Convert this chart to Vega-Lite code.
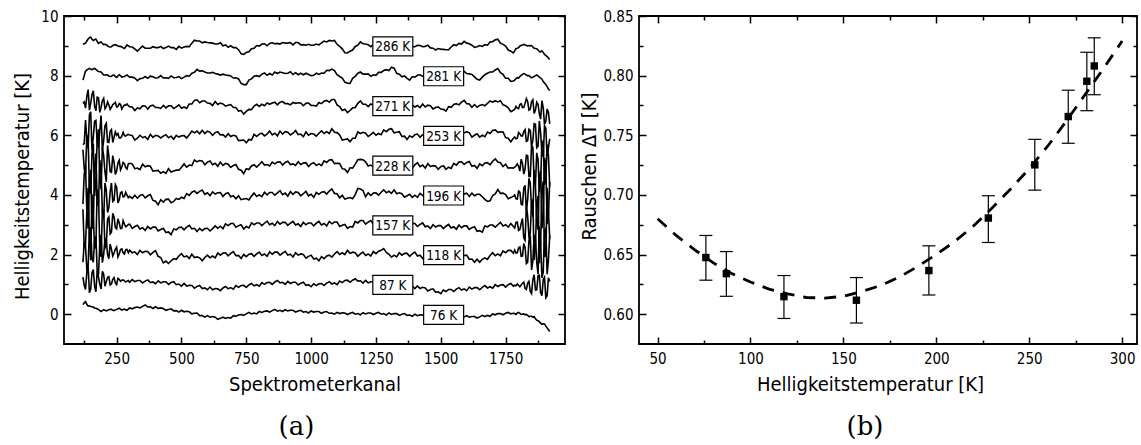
{
  "$schema": "https://vega.github.io/schema/vega-lite/v6.json",
  "background": "white",
  "padding": {"left": 11, "top": 8, "right": 0, "bottom": 0},
  "spacing": 74,
  "bounds": "flush",
  "config": {
    "view": {"stroke": "black", "strokeWidth": 1.8},
    "axis": {
      "labelFont": "DejaVu Sans Condensed, Liberation Sans, sans-serif",
      "labelFontSize": 15, "labelColor": "black", "labelFlush": false,
      "titleFont": "DejaVu Sans Condensed, Liberation Sans, sans-serif",
      "titleFontSize": 20, "titleFontWeight": "normal", "titleColor": "black",
      "domain": false, "grid": false, "tickColor": "black", "tickWidth": 1.5
    },
    "title": {"font": "DejaVu Serif", "fontSize": 26, "fontWeight": "normal", "color": "black"}
  },
  "hconcat": [
    {
      "width": 501, "height": 328,
      "title": {"text": "(a)", "orient": "bottom", "offset": 20, "dx": -18},
      "layer": [
        {
          "data": {"values": [
{"ch":120,"K286":9.05,"K281":7.85,"K271":7.07,"K253":5.68,"K228":5.52,"K196":3.69,"K157":3.52,"K118":1.74,"K87":1.24,"K76":0.32},
{"ch":130,"K286":9.09,"K281":8.15,"K271":6.91,"K253":6.51,"K228":4.70,"K196":4.99,"K157":2.33,"K118":2.28,"K87":0.83,"K76":0.42},
{"ch":140,"K286":9.23,"K281":8.22,"K271":7.53,"K253":5.56,"K228":5.91,"K196":2.87,"K157":4.24,"K118":1.60,"K87":1.60,"K76":0.27},
{"ch":150,"K286":9.29,"K281":8.21,"K271":7.08,"K253":6.79,"K228":4.04,"K196":4.84,"K157":1.81,"K118":2.88,"K87":0.84,"K76":0.26},
{"ch":160,"K286":9.18,"K281":8.23,"K271":7.49,"K253":5.95,"K228":5.72,"K196":3.02,"K157":3.29,"K118":1.74,"K87":1.50,"K76":0.24},
{"ch":170,"K286":9.22,"K281":8.21,"K271":6.82,"K253":6.50,"K228":4.51,"K196":5.39,"K157":2.30,"K118":2.60,"K87":0.75,"K76":0.20},
{"ch":180,"K286":9.08,"K281":8.14,"K271":7.26,"K253":5.59,"K228":6.20,"K196":3.68,"K157":4.01,"K118":1.32,"K87":1.25,"K76":0.15},
{"ch":190,"K286":9.13,"K281":8.12,"K271":6.94,"K253":6.66,"K228":4.19,"K196":4.79,"K157":1.92,"K118":2.66,"K87":0.85,"K76":0.09},
{"ch":200,"K286":9.04,"K281":8.02,"K271":7.24,"K253":5.83,"K228":5.31,"K196":3.21,"K157":3.48,"K118":2.01,"K87":1.34,"K76":0.15},
{"ch":210,"K286":9.04,"K281":8.03,"K271":6.96,"K253":6.40,"K228":4.44,"K196":4.16,"K157":2.30,"K118":2.49,"K87":1.09,"K76":0.11},
{"ch":220,"K286":8.97,"K281":7.99,"K271":7.02,"K253":5.76,"K228":5.29,"K196":3.57,"K157":3.26,"K118":1.86,"K87":1.26,"K76":0.15},
{"ch":230,"K286":8.97,"K281":7.98,"K271":6.94,"K253":6.19,"K228":4.76,"K196":4.40,"K157":2.75,"K118":2.18,"K87":1.01,"K76":0.16},
{"ch":240,"K286":9.03,"K281":8.02,"K271":7.06,"K253":5.93,"K228":5.10,"K196":3.82,"K157":3.26,"K118":2.05,"K87":1.23,"K76":0.12},
{"ch":250,"K286":9.02,"K281":7.94,"K271":6.95,"K253":6.00,"K228":4.80,"K196":4.26,"K157":2.86,"K118":2.25,"K87":0.99,"K76":0.16},
{"ch":260,"K286":8.98,"K281":8.03,"K271":7.06,"K253":5.91,"K228":5.16,"K196":3.84,"K157":3.06,"K118":2.02,"K87":1.17,"K76":0.20},
{"ch":270,"K286":8.96,"K281":7.95,"K271":6.88,"K253":5.97,"K228":4.94,"K196":4.10,"K157":2.88,"K118":2.19,"K87":1.14,"K76":0.14},
{"ch":280,"K286":8.91,"K281":7.97,"K271":7.01,"K253":5.99,"K228":5.05,"K196":3.95,"K157":3.02,"K118":2.02,"K87":1.12,"K76":0.17},
{"ch":290,"K286":9.03,"K281":8.02,"K271":7.05,"K253":6.01,"K228":4.87,"K196":3.99,"K157":2.96,"K118":2.17,"K87":1.11,"K76":0.13},
{"ch":300,"K286":8.97,"K281":7.95,"K271":6.96,"K253":6.01,"K228":5.06,"K196":3.95,"K157":3.02,"K118":2.15,"K87":1.07,"K76":0.21},
{"ch":310,"K286":8.96,"K281":7.95,"K271":6.95,"K253":5.99,"K228":5.04,"K196":3.88,"K157":2.88,"K118":2.06,"K87":1.16,"K76":0.18},
{"ch":320,"K286":8.90,"K281":7.92,"K271":6.83,"K253":5.84,"K228":4.88,"K196":3.99,"K157":2.94,"K118":2.09,"K87":1.09,"K76":0.22},
{"ch":330,"K286":8.82,"K281":7.83,"K271":6.92,"K253":5.90,"K228":4.90,"K196":3.89,"K157":2.98,"K118":2.00,"K87":1.13,"K76":0.24},
{"ch":340,"K286":8.91,"K281":7.90,"K271":6.89,"K253":6.00,"K228":4.85,"K196":3.98,"K157":2.86,"K118":2.14,"K87":1.13,"K76":0.21},
{"ch":350,"K286":8.99,"K281":7.91,"K271":6.99,"K253":5.92,"K228":5.03,"K196":4.01,"K157":2.90,"K118":2.06,"K87":1.05,"K76":0.26},
{"ch":360,"K286":8.92,"K281":7.97,"K271":6.98,"K253":5.95,"K228":4.94,"K196":3.90,"K157":2.81,"K118":2.11,"K87":1.11,"K76":0.31},
{"ch":370,"K286":8.92,"K281":7.91,"K271":6.88,"K253":5.86,"K228":4.98,"K196":3.97,"K157":2.94,"K118":2.10,"K87":1.15,"K76":0.24},
{"ch":380,"K286":8.92,"K281":7.98,"K271":6.98,"K253":6.03,"K228":4.96,"K196":4.01,"K157":2.86,"K118":1.99,"K87":1.06,"K76":0.25},
{"ch":390,"K286":8.97,"K281":7.96,"K271":7.01,"K253":5.93,"K228":4.80,"K196":3.82,"K157":2.92,"K118":2.07,"K87":1.08,"K76":0.19},
{"ch":400,"K286":8.94,"K281":7.92,"K271":6.93,"K253":6.00,"K228":4.81,"K196":3.79,"K157":2.92,"K118":2.13,"K87":1.02,"K76":0.25},
{"ch":410,"K286":8.94,"K281":7.93,"K271":6.93,"K253":5.98,"K228":4.82,"K196":3.67,"K157":2.79,"K118":1.94,"K87":1.12,"K76":0.19},
{"ch":420,"K286":8.98,"K281":8.00,"K271":6.90,"K253":5.91,"K228":4.73,"K196":3.84,"K157":2.84,"K118":1.90,"K87":1.05,"K76":0.21},
{"ch":430,"K286":8.91,"K281":7.92,"K271":7.00,"K253":5.97,"K228":4.78,"K196":3.76,"K157":2.88,"K118":1.72,"K87":1.09,"K76":0.19},
{"ch":440,"K286":8.94,"K281":7.93,"K271":6.92,"K253":6.02,"K228":4.72,"K196":3.85,"K157":2.74,"K118":1.78,"K87":1.09,"K76":0.13},
{"ch":450,"K286":8.99,"K281":7.91,"K271":6.99,"K253":5.92,"K228":4.88,"K196":3.86,"K157":2.76,"K118":1.70,"K87":1.00,"K76":0.16},
{"ch":460,"K286":8.94,"K281":7.99,"K271":6.99,"K253":5.97,"K228":4.77,"K196":3.74,"K157":2.67,"K118":1.79,"K87":1.06,"K76":0.18},
{"ch":470,"K286":8.94,"K281":7.93,"K271":6.90,"K253":5.87,"K228":4.80,"K196":3.78,"K157":2.86,"K118":1.86,"K87":1.09,"K76":0.11},
{"ch":480,"K286":8.88,"K281":7.94,"K271":6.95,"K253":6.00,"K228":4.83,"K196":3.88,"K157":2.83,"K118":1.84,"K87":0.99,"K76":0.12},
{"ch":490,"K286":8.98,"K281":7.97,"K271":7.02,"K253":5.94,"K228":4.83,"K196":3.85,"K157":2.91,"K118":1.95,"K87":1.01,"K76":0.07},
{"ch":500,"K286":8.92,"K281":7.90,"K271":6.91,"K253":5.98,"K228":4.93,"K196":3.92,"K157":2.92,"K118":2.03,"K87":0.94,"K76":0.13},
{"ch":510,"K286":8.96,"K281":7.95,"K271":6.95,"K253":5.99,"K228":5.04,"K196":3.88,"K157":2.83,"K118":1.92,"K87":1.03,"K76":0.08},
{"ch":520,"K286":8.98,"K281":8.00,"K271":6.90,"K253":5.91,"K228":4.93,"K196":4.04,"K157":2.92,"K118":1.95,"K87":0.94,"K76":0.10},
{"ch":530,"K286":8.97,"K281":7.98,"K271":7.05,"K253":6.02,"K228":5.00,"K196":3.98,"K157":2.98,"K118":1.87,"K87":0.97,"K76":0.08},
{"ch":540,"K286":9.09,"K281":8.08,"K271":7.05,"K253":6.14,"K228":4.98,"K196":4.09,"K157":2.86,"K118":2.01,"K87":0.96,"K76":0.01},
{"ch":550,"K286":9.19,"K281":8.11,"K271":7.17,"K253":6.08,"K228":5.17,"K196":4.13,"K157":2.88,"K118":1.90,"K87":0.87,"K76":0.03},
{"ch":560,"K286":9.16,"K281":8.21,"K271":7.19,"K253":6.14,"K228":5.11,"K196":4.05,"K157":2.77,"K118":1.92,"K87":0.93,"K76":0.04},
{"ch":570,"K286":9.16,"K281":8.15,"K271":7.09,"K253":6.05,"K228":5.15,"K196":4.12,"K157":2.88,"K118":1.89,"K87":0.96,"K76":-0.05},
{"ch":580,"K286":9.10,"K281":8.16,"K271":7.15,"K253":6.17,"K228":5.14,"K196":4.16,"K157":2.80,"K118":1.79,"K87":0.86,"K76":-0.05},
{"ch":590,"K286":9.13,"K281":8.12,"K271":7.15,"K253":6.06,"K228":5.01,"K196":4.02,"K157":2.87,"K118":1.90,"K87":0.88,"K76":-0.10},
{"ch":600,"K286":9.11,"K281":8.09,"K271":7.08,"K253":6.14,"K228":5.10,"K196":4.07,"K157":2.88,"K118":1.98,"K87":0.82,"K76":-0.05},
{"ch":610,"K286":9.10,"K281":8.09,"K271":7.07,"K253":6.10,"K228":5.14,"K196":3.97,"K157":2.79,"K118":1.89,"K87":0.91,"K76":-0.10},
{"ch":620,"K286":9.09,"K281":8.11,"K271":7.00,"K253":6.00,"K228":5.01,"K196":4.10,"K157":2.87,"K118":1.95,"K87":0.82,"K76":-0.08},
{"ch":630,"K286":9.06,"K281":8.07,"K271":7.13,"K253":6.09,"K228":5.06,"K196":4.03,"K157":2.96,"K118":1.89,"K87":0.86,"K76":-0.10},
{"ch":640,"K286":9.06,"K281":8.05,"K271":7.03,"K253":6.12,"K228":4.96,"K196":4.07,"K157":2.88,"K118":2.05,"K87":0.85,"K76":-0.17},
{"ch":650,"K286":9.10,"K281":8.02,"K271":7.08,"K253":6.01,"K228":5.10,"K196":4.08,"K157":2.95,"K118":1.98,"K87":0.79,"K76":-0.14},
{"ch":660,"K286":9.00,"K281":8.05,"K271":7.05,"K253":6.02,"K228":4.99,"K196":3.95,"K157":2.87,"K118":2.05,"K87":0.88,"K76":-0.10},
{"ch":670,"K286":9.03,"K281":8.02,"K271":6.98,"K253":5.94,"K228":5.06,"K196":4.04,"K157":3.03,"K118":2.06,"K87":0.93,"K76":-0.14},
{"ch":680,"K286":8.95,"K281":8.01,"K271":7.01,"K253":6.05,"K228":5.03,"K196":4.07,"K157":2.97,"K118":1.96,"K87":0.85,"K76":-0.11},
{"ch":690,"K286":9.00,"K281":7.99,"K271":7.03,"K253":5.96,"K228":4.92,"K196":3.94,"K157":3.04,"K118":2.04,"K87":0.89,"K76":-0.13},
{"ch":700,"K286":8.94,"K281":7.92,"K271":6.93,"K253":6.00,"K228":4.99,"K196":3.97,"K157":3.04,"K118":2.10,"K87":0.84,"K76":-0.05},
{"ch":710,"K286":8.94,"K281":7.93,"K271":6.93,"K253":5.98,"K228":5.02,"K196":3.87,"K157":2.92,"K118":1.96,"K87":0.96,"K76":-0.07},
{"ch":720,"K286":8.87,"K281":7.89,"K271":6.81,"K253":5.82,"K228":4.86,"K196":3.97,"K157":2.97,"K118":1.97,"K87":0.90,"K76":-0.03},
{"ch":730,"K286":8.73,"K281":7.74,"K271":6.83,"K253":5.83,"K228":4.83,"K196":3.84,"K157":3.00,"K118":1.87,"K87":0.96,"K76":-0.01},
{"ch":740,"K286":8.71,"K281":7.70,"K271":6.71,"K253":5.84,"K228":4.71,"K196":3.86,"K157":2.86,"K118":2.00,"K87":0.97,"K76":-0.04},
{"ch":750,"K286":8.78,"K281":7.70,"K271":6.80,"K253":5.75,"K228":4.88,"K196":3.88,"K157":2.94,"K118":1.93,"K87":0.90,"K76":0.01},
{"ch":760,"K286":8.80,"K281":7.85,"K271":6.87,"K253":5.86,"K228":4.85,"K196":3.83,"K157":2.89,"K118":2.01,"K87":0.98,"K76":0.06},
{"ch":770,"K286":8.90,"K281":7.89,"K271":6.86,"K253":5.84,"K228":4.97,"K196":3.96,"K157":3.06,"K118":2.03,"K87":1.03,"K76":0.01},
{"ch":780,"K286":8.92,"K281":7.98,"K271":6.98,"K253":6.03,"K228":5.01,"K196":4.06,"K157":3.00,"K118":1.94,"K87":0.95,"K76":0.04},
{"ch":790,"K286":9.01,"K281":8.00,"K271":7.04,"K253":5.96,"K228":4.93,"K196":3.95,"K157":3.06,"K118":2.02,"K87":0.99,"K76":0.01},
{"ch":800,"K286":8.99,"K281":7.97,"K271":6.97,"K253":6.04,"K228":5.02,"K196":4.00,"K157":3.06,"K118":2.08,"K87":0.94,"K76":0.09},
{"ch":810,"K286":9.06,"K281":8.05,"K271":7.04,"K253":6.07,"K228":5.11,"K196":3.94,"K157":2.97,"K118":1.97,"K87":1.06,"K76":0.06},
{"ch":820,"K286":9.07,"K281":8.09,"K271":6.99,"K253":5.98,"K228":5.00,"K196":4.09,"K157":3.05,"K118":2.02,"K87":1.00,"K76":0.10},
{"ch":830,"K286":9.00,"K281":8.01,"K271":7.08,"K253":6.04,"K228":5.02,"K196":4.00,"K157":3.12,"K118":1.94,"K87":1.06,"K76":0.11},
{"ch":840,"K286":9.08,"K281":8.07,"K271":7.04,"K253":6.14,"K228":4.97,"K196":4.08,"K157":3.00,"K118":2.09,"K87":1.07,"K76":0.07},
{"ch":850,"K286":9.10,"K281":8.02,"K271":7.08,"K253":6.01,"K228":5.10,"K196":4.08,"K157":3.05,"K118":2.01,"K87":1.00,"K76":0.12},
{"ch":860,"K286":9.07,"K281":8.12,"K271":7.11,"K253":6.07,"K228":5.04,"K196":3.99,"K157":2.97,"K118":2.08,"K87":1.08,"K76":0.16},
{"ch":870,"K286":9.08,"K281":8.07,"K271":7.02,"K253":5.98,"K228":5.10,"K196":4.07,"K157":3.11,"K118":2.08,"K87":1.13,"K76":0.10},
{"ch":880,"K286":9.06,"K281":8.12,"K271":7.11,"K253":6.14,"K228":5.11,"K196":4.14,"K157":3.02,"K118":1.98,"K87":1.05,"K76":0.13},
{"ch":890,"K286":9.11,"K281":8.10,"K271":7.13,"K253":6.04,"K228":5.00,"K196":4.01,"K157":3.08,"K118":2.05,"K87":1.07,"K76":0.09},
{"ch":900,"K286":9.09,"K281":8.07,"K271":7.06,"K253":6.12,"K228":5.09,"K196":4.06,"K157":3.08,"K118":2.11,"K87":1.00,"K76":0.15},
{"ch":910,"K286":9.09,"K281":8.08,"K271":7.06,"K253":6.10,"K228":5.13,"K196":3.96,"K157":2.98,"K118":1.98,"K87":1.10,"K76":0.11},
{"ch":920,"K286":9.11,"K281":8.13,"K271":7.02,"K253":6.01,"K228":5.02,"K196":4.11,"K157":3.05,"K118":2.01,"K87":1.03,"K76":0.13},
{"ch":930,"K286":9.03,"K281":8.04,"K271":7.10,"K253":6.07,"K228":5.04,"K196":4.02,"K157":3.11,"K118":1.92,"K87":1.07,"K76":0.13},
{"ch":940,"K286":9.11,"K281":8.10,"K271":7.07,"K253":6.16,"K228":4.99,"K196":4.10,"K157":2.99,"K118":2.06,"K87":1.07,"K76":0.07},
{"ch":950,"K286":9.11,"K281":8.03,"K271":7.09,"K253":6.02,"K228":5.11,"K196":4.08,"K157":3.03,"K118":1.98,"K87":0.98,"K76":0.11},
{"ch":960,"K286":9.03,"K281":8.08,"K271":7.08,"K253":6.04,"K228":5.02,"K196":3.97,"K157":2.94,"K118":2.02,"K87":1.04,"K76":0.13},
{"ch":970,"K286":9.04,"K281":8.03,"K271":6.99,"K253":5.95,"K228":5.07,"K196":4.04,"K157":3.08,"K118":2.00,"K87":1.07,"K76":0.07},
{"ch":980,"K286":9.02,"K281":8.08,"K271":7.07,"K253":6.11,"K228":5.08,"K196":4.12,"K157":3.00,"K118":1.88,"K87":0.97,"K76":0.09},
{"ch":990,"K286":9.05,"K281":8.04,"K271":7.08,"K253":6.00,"K228":4.95,"K196":3.97,"K157":3.06,"K118":1.94,"K87":0.99,"K76":0.04},
{"ch":1000,"K286":9.02,"K281":8.00,"K271":7.00,"K253":6.06,"K228":5.04,"K196":4.02,"K157":3.06,"K118":1.98,"K87":0.92,"K76":0.11},
{"ch":1010,"K286":9.02,"K281":8.01,"K271":7.00,"K253":6.04,"K228":5.08,"K196":3.92,"K157":2.96,"K118":1.85,"K87":1.02,"K76":0.07},
{"ch":1020,"K286":9.06,"K281":8.08,"K271":6.98,"K253":5.97,"K228":4.99,"K196":4.08,"K157":3.05,"K118":1.88,"K87":0.96,"K76":0.09},
{"ch":1030,"K286":9.03,"K281":8.04,"K271":7.10,"K253":6.07,"K228":5.04,"K196":4.02,"K157":3.11,"K118":1.79,"K87":1.02,"K76":0.09},
{"ch":1040,"K286":9.10,"K281":8.09,"K271":7.06,"K253":6.15,"K228":4.98,"K196":4.09,"K157":2.99,"K118":1.93,"K87":1.03,"K76":0.03},
{"ch":1050,"K286":9.16,"K281":8.08,"K271":7.14,"K253":6.06,"K228":5.14,"K196":4.11,"K157":3.04,"K118":1.86,"K87":0.96,"K76":0.07},
{"ch":1060,"K286":9.13,"K281":8.18,"K271":7.17,"K253":6.12,"K228":5.09,"K196":4.03,"K157":2.96,"K118":1.95,"K87":1.04,"K76":0.09},
{"ch":1070,"K286":9.18,"K281":8.17,"K271":7.11,"K253":6.06,"K228":5.17,"K196":4.13,"K157":3.11,"K118":1.98,"K87":1.09,"K76":0.03},
{"ch":1080,"K286":9.16,"K281":8.22,"K271":7.20,"K253":6.22,"K228":5.18,"K196":4.20,"K157":3.03,"K118":1.91,"K87":1.01,"K76":0.04},
{"ch":1090,"K286":9.18,"K281":8.17,"K271":7.20,"K253":6.10,"K228":5.05,"K196":4.05,"K157":3.09,"K118":2.02,"K87":1.05,"K76":0.00},
{"ch":1100,"K286":9.05,"K281":8.03,"K271":7.02,"K253":6.09,"K228":5.06,"K196":4.04,"K157":3.09,"K118":2.10,"K87":0.99,"K76":0.06},
{"ch":1110,"K286":8.98,"K281":7.97,"K271":6.96,"K253":6.01,"K228":5.05,"K196":3.90,"K157":2.94,"K118":2.00,"K87":1.11,"K76":0.02},
{"ch":1120,"K286":8.90,"K281":7.92,"K271":6.83,"K253":5.84,"K228":4.88,"K196":3.99,"K157":2.98,"K118":2.06,"K87":1.06,"K76":0.05},
{"ch":1130,"K286":8.77,"K281":7.78,"K271":6.87,"K253":5.86,"K228":4.86,"K196":3.86,"K157":3.01,"K118":2.00,"K87":1.13,"K76":0.04},
{"ch":1140,"K286":8.76,"K281":7.75,"K271":6.76,"K253":5.88,"K228":4.75,"K196":3.89,"K157":2.88,"K118":2.14,"K87":1.14,"K76":-0.01},
{"ch":1150,"K286":8.82,"K281":7.74,"K271":6.83,"K253":5.78,"K228":4.91,"K196":3.91,"K157":2.94,"K118":2.04,"K87":1.07,"K76":0.03},
{"ch":1160,"K286":8.86,"K281":7.91,"K271":6.92,"K253":5.90,"K228":4.90,"K196":3.87,"K157":2.92,"K118":2.08,"K87":1.14,"K76":0.06},
{"ch":1170,"K286":8.98,"K281":7.97,"K271":6.93,"K253":5.90,"K228":5.03,"K196":4.01,"K157":3.11,"K118":2.06,"K87":1.19,"K76":0.00},
{"ch":1180,"K286":9.02,"K281":8.08,"K271":7.07,"K253":6.11,"K228":5.18,"K196":4.22,"K157":3.06,"K118":1.94,"K87":1.11,"K76":0.02},
{"ch":1190,"K286":9.13,"K281":8.12,"K271":7.15,"K253":6.06,"K228":5.19,"K196":4.20,"K157":3.14,"K118":2.02,"K87":1.12,"K76":-0.02},
{"ch":1200,"K286":9.07,"K281":8.05,"K271":7.04,"K253":6.10,"K228":5.18,"K196":4.15,"K157":3.14,"K118":2.08,"K87":1.04,"K76":0.05},
{"ch":1210,"K286":9.06,"K281":8.05,"K271":7.04,"K253":6.07,"K228":5.11,"K196":3.94,"K157":3.02,"K118":1.97,"K87":1.13,"K76":0.01},
{"ch":1220,"K286":9.04,"K281":8.06,"K271":6.96,"K253":5.96,"K228":4.97,"K196":4.07,"K157":3.09,"K118":2.02,"K87":1.05,"K76":0.04},
{"ch":1230,"K286":8.97,"K281":7.98,"K271":7.05,"K253":6.02,"K228":5.00,"K196":3.98,"K157":3.14,"K118":1.95,"K87":1.09,"K76":0.04},
{"ch":1240,"K286":9.04,"K281":8.03,"K271":7.01,"K253":6.10,"K228":4.94,"K196":4.06,"K157":3.02,"K118":2.10,"K87":1.09,"K76":-0.01},
{"ch":1250,"K286":9.09,"K281":8.01,"K271":7.08,"K253":6.00,"K228":5.10,"K196":4.07,"K157":3.06,"K118":2.03,"K87":1.00,"K76":0.03},
{"ch":1260,"K286":9.06,"K281":8.11,"K271":7.10,"K253":6.06,"K228":5.04,"K196":3.99,"K157":2.98,"K118":2.11,"K87":1.06,"K76":0.06},
{"ch":1270,"K286":9.12,"K281":8.11,"K271":7.06,"K253":6.02,"K228":5.12,"K196":4.09,"K157":3.12,"K118":2.14,"K87":1.10,"K76":0.00},
{"ch":1280,"K286":9.11,"K281":8.17,"K271":7.16,"K253":6.18,"K228":5.15,"K196":4.17,"K157":3.03,"K118":2.20,"K87":1.01,"K76":0.02},
{"ch":1290,"K286":9.21,"K281":8.20,"K271":7.22,"K253":6.12,"K228":5.07,"K196":4.07,"K157":3.09,"K118":2.07,"K87":1.03,"K76":-0.03},
{"ch":1300,"K286":9.19,"K281":8.17,"K271":7.15,"K253":6.20,"K228":5.16,"K196":4.12,"K157":3.09,"K118":2.01,"K87":0.97,"K76":0.04},
{"ch":1310,"K286":9.24,"K281":8.28,"K271":7.20,"K253":6.22,"K228":5.23,"K196":4.05,"K157":2.98,"K118":1.91,"K87":1.07,"K76":-0.01},
{"ch":1320,"K286":9.20,"K281":8.25,"K271":7.10,"K253":6.08,"K228":5.09,"K196":4.17,"K157":3.06,"K118":1.98,"K87":1.00,"K76":0.02},
{"ch":1330,"K286":9.07,"K281":8.08,"K271":7.14,"K253":6.10,"K228":5.07,"K196":4.04,"K157":3.12,"K118":1.92,"K87":1.04,"K76":0.02},
{"ch":1340,"K286":9.06,"K281":8.05,"K271":7.03,"K253":6.12,"K228":4.96,"K196":4.07,"K157":2.99,"K118":2.06,"K87":1.04,"K76":-0.04},
{"ch":1350,"K286":9.04,"K281":7.96,"K271":7.03,"K253":5.96,"K228":5.06,"K196":4.04,"K157":3.03,"K118":1.98,"K87":0.95,"K76":0.00},
{"ch":1360,"K286":8.94,"K281":7.99,"K271":6.99,"K253":5.97,"K228":4.95,"K196":3.92,"K157":2.94,"K118":2.04,"K87":1.00,"K76":0.02},
{"ch":1370,"K286":8.92,"K281":7.91,"K271":6.88,"K253":5.86,"K228":4.98,"K196":3.97,"K157":3.08,"K118":2.04,"K87":1.03,"K76":-0.04},
{"ch":1380,"K286":8.86,"K281":7.85,"K271":6.93,"K253":5.98,"K228":4.97,"K196":4.02,"K157":2.99,"K118":1.94,"K87":0.93,"K76":-0.03},
{"ch":1390,"K286":8.97,"K281":7.96,"K271":7.01,"K253":5.93,"K228":4.90,"K196":3.92,"K157":3.05,"K118":2.02,"K87":0.94,"K76":-0.07},
{"ch":1400,"K286":8.97,"K281":7.95,"K271":6.95,"K253":6.02,"K228":5.01,"K196":3.99,"K157":3.04,"K118":2.08,"K87":0.86,"K76":0.00},
{"ch":1410,"K286":9.02,"K281":8.01,"K271":7.00,"K253":6.04,"K228":5.08,"K196":3.92,"K157":2.94,"K118":1.95,"K87":0.95,"K76":-0.05},
{"ch":1420,"K286":9.01,"K281":8.03,"K271":6.93,"K253":5.93,"K228":4.95,"K196":4.05,"K157":3.01,"K118":1.98,"K87":0.86,"K76":-0.02},
{"ch":1430,"K286":8.97,"K281":7.98,"K271":7.05,"K253":6.02,"K228":5.00,"K196":3.98,"K157":3.06,"K118":1.87,"K87":0.90,"K76":-0.03},
{"ch":1440,"K286":8.98,"K281":7.97,"K271":6.95,"K253":6.06,"K228":4.90,"K196":4.02,"K157":2.93,"K118":2.01,"K87":0.88,"K76":-0.08},
{"ch":1450,"K286":9.02,"K281":7.94,"K271":7.01,"K253":5.94,"K228":5.05,"K196":4.03,"K157":2.96,"K118":1.93,"K87":0.78,"K76":-0.04},
{"ch":1460,"K286":8.93,"K281":7.98,"K271":6.99,"K253":5.96,"K228":4.95,"K196":3.91,"K157":2.87,"K118":1.99,"K87":0.83,"K76":-0.01},
{"ch":1470,"K286":8.92,"K281":7.91,"K271":6.88,"K253":5.86,"K228":4.98,"K196":3.97,"K157":3.00,"K118":1.99,"K87":0.85,"K76":-0.07},
{"ch":1480,"K286":8.86,"K281":7.92,"K271":6.93,"K253":5.98,"K228":4.97,"K196":4.02,"K157":2.92,"K118":1.89,"K87":0.74,"K76":-0.05},
{"ch":1490,"K286":8.91,"K281":7.90,"K271":6.95,"K253":5.88,"K228":4.86,"K196":3.89,"K157":2.97,"K118":1.97,"K87":0.75,"K76":-0.09},
{"ch":1500,"K286":8.89,"K281":7.87,"K271":6.88,"K253":5.96,"K228":4.95,"K196":3.94,"K157":2.97,"K118":2.03,"K87":0.69,"K76":-0.02},
{"ch":1510,"K286":8.88,"K281":7.87,"K271":6.87,"K253":5.93,"K228":4.98,"K196":3.84,"K157":2.87,"K118":1.91,"K87":0.81,"K76":-0.06},
{"ch":1520,"K286":8.87,"K281":7.89,"K271":6.81,"K253":5.82,"K228":4.86,"K196":3.97,"K157":2.95,"K118":1.95,"K87":0.76,"K76":-0.03},
{"ch":1530,"K286":8.87,"K281":7.88,"K271":6.96,"K253":5.94,"K228":4.93,"K196":3.92,"K157":3.01,"K118":1.87,"K87":0.83,"K76":-0.03},
{"ch":1540,"K286":8.96,"K281":7.95,"K271":6.94,"K253":6.04,"K228":4.89,"K196":4.01,"K157":2.89,"K118":2.01,"K87":0.83,"K76":-0.08},
{"ch":1550,"K286":9.04,"K281":7.96,"K271":7.03,"K253":5.96,"K228":5.06,"K196":4.04,"K157":2.93,"K118":1.93,"K87":0.76,"K76":-0.04},
{"ch":1560,"K286":9.01,"K281":8.06,"K271":7.06,"K253":6.02,"K228":5.00,"K196":3.96,"K157":2.85,"K118":1.99,"K87":0.84,"K76":-0.01},
{"ch":1570,"K286":9.08,"K281":8.07,"K271":7.02,"K253":5.98,"K228":5.10,"K196":4.07,"K157":2.99,"K118":1.99,"K87":0.89,"K76":-0.07},
{"ch":1580,"K286":9.06,"K281":8.12,"K271":7.11,"K253":6.14,"K228":5.11,"K196":4.14,"K157":2.90,"K118":1.89,"K87":0.81,"K76":-0.05},
{"ch":1590,"K286":9.15,"K281":8.14,"K271":7.17,"K253":6.08,"K228":5.02,"K196":4.03,"K157":2.96,"K118":1.97,"K87":0.85,"K76":-0.09},
{"ch":1600,"K286":9.09,"K281":8.07,"K271":7.06,"K253":6.12,"K228":5.09,"K196":4.06,"K157":2.96,"K118":1.98,"K87":0.79,"K76":-0.05},
{"ch":1610,"K286":9.07,"K281":8.06,"K271":7.05,"K253":6.08,"K228":5.12,"K196":3.95,"K157":2.84,"K118":1.84,"K87":0.91,"K76":-0.10},
{"ch":1620,"K286":9.02,"K281":8.04,"K271":6.94,"K253":5.94,"K228":4.96,"K196":4.06,"K157":2.90,"K118":1.85,"K87":0.84,"K76":-0.08},
{"ch":1630,"K286":8.95,"K281":7.96,"K271":7.03,"K253":6.00,"K228":4.99,"K196":3.97,"K157":2.93,"K118":1.74,"K87":0.89,"K76":-0.08},
{"ch":1640,"K286":8.97,"K281":7.88,"K271":6.94,"K253":6.05,"K228":4.89,"K196":4.02,"K157":2.78,"K118":1.84,"K87":0.89,"K76":-0.13},
{"ch":1650,"K286":9.01,"K281":7.85,"K271":7.00,"K253":5.94,"K228":5.04,"K196":4.02,"K157":2.80,"K118":1.74,"K87":0.82,"K76":-0.09},
{"ch":1660,"K286":8.98,"K281":7.95,"K271":7.03,"K253":6.00,"K228":4.98,"K196":3.94,"K157":2.75,"K118":1.84,"K87":0.90,"K76":-0.04},
{"ch":1670,"K286":9.04,"K281":8.03,"K271":6.99,"K253":5.95,"K228":5.07,"K196":3.85,"K157":2.96,"K118":1.89,"K87":0.96,"K76":-0.08},
{"ch":1680,"K286":9.02,"K281":8.08,"K271":7.07,"K253":6.11,"K228":5.08,"K196":3.78,"K157":2.93,"K118":1.84,"K87":0.88,"K76":-0.04},
{"ch":1690,"K286":9.13,"K281":8.12,"K271":7.15,"K253":6.06,"K228":5.01,"K196":3.80,"K157":2.99,"K118":1.97,"K87":0.92,"K76":-0.07},
{"ch":1700,"K286":9.14,"K281":8.12,"K271":7.11,"K253":6.16,"K228":5.13,"K196":3.98,"K157":2.99,"K118":2.06,"K87":0.87,"K76":0.01},
{"ch":1710,"K286":9.20,"K281":8.19,"K271":7.16,"K253":6.18,"K228":5.21,"K196":4.03,"K157":2.92,"K118":1.96,"K87":0.99,"K76":-0.02},
{"ch":1720,"K286":9.22,"K281":8.24,"K271":7.12,"K253":6.10,"K228":5.10,"K196":4.18,"K157":3.00,"K118":2.02,"K87":0.93,"K76":0.02},
{"ch":1730,"K286":9.09,"K281":8.10,"K271":7.16,"K253":6.12,"K228":5.08,"K196":4.05,"K157":3.08,"K118":1.96,"K87":0.98,"K76":0.02},
{"ch":1740,"K286":9.05,"K281":8.04,"K271":7.02,"K253":6.11,"K228":4.95,"K196":4.06,"K157":2.96,"K118":2.12,"K87":0.99,"K76":-0.02},
{"ch":1750,"K286":8.99,"K281":7.91,"K271":6.99,"K253":5.92,"K228":5.03,"K196":4.01,"K157":3.00,"K118":2.06,"K87":0.91,"K76":0.03},
{"ch":1760,"K286":8.86,"K281":7.91,"K271":6.92,"K253":5.90,"K228":4.90,"K196":3.87,"K157":2.92,"K118":2.14,"K87":0.99,"K76":0.06},
{"ch":1770,"K286":8.82,"K281":7.81,"K271":6.79,"K253":5.78,"K228":4.91,"K196":3.91,"K157":3.04,"K118":2.14,"K87":1.03,"K76":0.01},
{"ch":1780,"K286":8.76,"K281":7.82,"K271":6.84,"K253":5.90,"K228":4.90,"K196":3.96,"K157":2.94,"K118":2.04,"K87":0.94,"K76":0.03},
{"ch":1790,"K286":8.91,"K281":7.90,"K271":6.97,"K253":5.88,"K228":4.97,"K196":3.87,"K157":3.08,"K118":2.05,"K87":0.95,"K76":-0.01},
{"ch":1800,"K286":8.94,"K281":7.92,"K271":6.89,"K253":6.09,"K228":4.96,"K196":4.13,"K157":2.81,"K118":2.23,"K87":0.97,"K76":0.06},
{"ch":1810,"K286":9.02,"K281":8.01,"K271":7.06,"K253":5.98,"K228":5.20,"K196":3.69,"K157":3.04,"K118":1.94,"K87":0.98,"K76":0.00},
{"ch":1820,"K286":9.05,"K281":8.07,"K271":6.93,"K253":6.12,"K228":4.70,"K196":4.23,"K157":2.56,"K118":2.37,"K87":1.08,"K76":0.01},
{"ch":1830,"K286":9.01,"K281":8.02,"K271":7.23,"K253":5.80,"K228":5.33,"K196":3.47,"K157":3.63,"K118":1.70,"K87":0.83,"K76":-0.01},
{"ch":1840,"K286":9.01,"K281":8.00,"K271":6.84,"K253":6.20,"K228":4.62,"K196":4.56,"K157":2.61,"K118":2.46,"K87":1.10,"K76":-0.08},
{"ch":1850,"K286":9.01,"K281":7.93,"K271":7.13,"K253":5.63,"K228":5.65,"K196":3.56,"K157":3.76,"K118":1.48,"K87":0.69,"K76":-0.07},
{"ch":1860,"K286":8.92,"K281":7.97,"K271":6.73,"K253":6.39,"K228":4.47,"K196":4.84,"K157":1.82,"K118":2.63,"K87":1.32,"K76":-0.08},
{"ch":1870,"K286":8.90,"K281":8.02,"K271":7.11,"K253":5.58,"K228":5.41,"K196":3.06,"K157":3.73,"K118":1.74,"K87":0.82,"K76":-0.20},
{"ch":1880,"K286":8.81,"K281":7.95,"K271":6.73,"K253":6.48,"K228":4.10,"K196":4.64,"K157":1.71,"K118":2.94,"K87":1.31,"K76":-0.25},
{"ch":1890,"K286":8.83,"K281":7.88,"K271":7.16,"K253":5.40,"K228":5.78,"K196":2.88,"K157":4.19,"K118":1.22,"K87":0.62,"K76":-0.34},
{"ch":1900,"K286":8.71,"K281":7.75,"K271":6.37,"K253":6.32,"K228":4.34,"K196":5.24,"K157":1.94,"K118":2.78,"K87":1.24,"K76":-0.33},
{"ch":1910,"K286":8.64,"K281":7.63,"K271":6.88,"K253":5.31,"K228":5.69,"K196":3.02,"K157":4.24,"K118":1.34,"K87":0.62,"K76":-0.46},
{"ch":1920,"K286":8.54,"K281":7.50,"K271":6.38,"K253":5.88,"K228":4.28,"K196":4.43,"K157":2.52,"K118":2.64,"K87":1.10,"K76":-0.58},
{"ch":125,"K286":9.07,"K281":8.00,"K271":7.12,"K253":5.73,"K228":4.88,"K196":4.71,"K157":2.22,"K118":2.41,"K87":0.97,"K76":0.38},
{"ch":135,"K286":9.16,"K281":8.19,"K271":7.30,"K253":5.86,"K228":6.01,"K196":3.44,"K157":3.45,"K118":1.52,"K87":1.40,"K76":0.33},
{"ch":145,"K286":9.27,"K281":8.24,"K271":6.84,"K253":6.68,"K228":4.20,"K196":4.55,"K157":2.59,"K118":2.82,"K87":0.72,"K76":0.28},
{"ch":155,"K286":9.22,"K281":8.20,"K271":7.37,"K253":5.49,"K228":5.40,"K196":2.86,"K157":4.02,"K118":1.86,"K87":1.39,"K76":0.25},
{"ch":165,"K286":9.21,"K281":8.24,"K271":6.98,"K253":6.47,"K228":3.96,"K196":4.94,"K157":2.20,"K118":2.50,"K87":0.94,"K76":0.21},
{"ch":175,"K286":9.15,"K281":8.17,"K271":7.28,"K253":5.79,"K228":5.92,"K196":3.67,"K157":4.18,"K118":1.44,"K87":1.45,"K76":0.18},
{"ch":185,"K286":9.11,"K281":8.13,"K271":6.77,"K253":6.17,"K228":4.51,"K196":5.17,"K157":2.18,"K118":2.38,"K87":1.00,"K76":0.12},
{"ch":195,"K286":9.08,"K281":8.07,"K271":7.16,"K253":5.50,"K228":5.60,"K196":3.42,"K157":3.49,"K118":1.73,"K87":1.44,"K76":0.12},
{"ch":205,"K286":9.05,"K281":8.02,"K271":6.89,"K253":6.32,"K228":4.77,"K196":4.40,"K157":2.22,"K118":2.52,"K87":0.94,"K76":0.13},
{"ch":215,"K286":9.00,"K281":8.02,"K271":7.12,"K253":5.77,"K228":5.66,"K196":3.41,"K157":3.19,"K118":2.01,"K87":1.24,"K76":0.13},
{"ch":225,"K286":8.96,"K281":7.97,"K271":6.87,"K253":6.13,"K228":4.78,"K196":4.10,"K157":2.69,"K118":2.35,"K87":0.98,"K76":0.16},
{"ch":235,"K286":9.01,"K281":8.01,"K271":7.03,"K253":5.76,"K228":5.32,"K196":3.78,"K157":3.38,"K118":1.95,"K87":1.17,"K76":0.13},
{"ch":245,"K286":9.04,"K281":7.97,"K271":7.10,"K253":6.11,"K228":4.69,"K196":4.35,"K157":2.90,"K118":2.18,"K87":1.05,"K76":0.15},
{"ch":255,"K286":8.99,"K281":7.99,"K271":6.96,"K253":6.06,"K228":5.07,"K196":3.73,"K157":3.20,"K118":1.92,"K87":1.20,"K76":0.18},
{"ch":265,"K286":8.98,"K281":8.00,"K271":7.04,"K253":5.91,"K228":4.84,"K196":4.07,"K157":2.87,"K118":2.17,"K87":1.10,"K76":0.17},
{"ch":275,"K286":8.93,"K281":7.96,"K271":6.96,"K253":6.10,"K228":5.09,"K196":3.93,"K157":3.14,"K118":2.06,"K87":1.15,"K76":0.16},
{"ch":285,"K286":8.97,"K281":8.00,"K271":7.01,"K253":5.97,"K228":4.92,"K196":4.09,"K157":2.93,"K118":2.16,"K87":1.08,"K76":0.15},
{"ch":295,"K286":9.00,"K281":7.98,"K271":6.99,"K253":6.03,"K228":5.04,"K196":3.91,"K157":3.01,"K118":2.06,"K87":1.13,"K76":0.17},
{"ch":1785,"K286":8.83,"K281":7.85,"K271":6.87,"K253":5.94,"K228":4.93,"K196":4.00,"K157":2.89,"K118":2.15,"K87":0.97,"K76":0.02},
{"ch":1795,"K286":8.92,"K281":7.93,"K271":6.91,"K253":5.90,"K228":5.04,"K196":3.86,"K157":3.09,"K118":2.06,"K87":1.01,"K76":0.04},
{"ch":1805,"K286":8.99,"K281":7.97,"K271":7.03,"K253":6.05,"K228":4.80,"K196":4.09,"K157":2.84,"K118":2.26,"K87":0.92,"K76":0.03},
{"ch":1815,"K286":9.03,"K281":8.04,"K271":6.93,"K253":5.98,"K228":5.06,"K196":3.67,"K157":3.21,"K118":1.95,"K87":1.04,"K76":0.00},
{"ch":1825,"K286":9.03,"K281":8.05,"K271":7.07,"K253":6.19,"K228":4.86,"K196":4.32,"K157":2.48,"K118":2.24,"K87":0.87,"K76":-0.02},
{"ch":1835,"K286":9.00,"K281":8.00,"K271":7.13,"K253":5.82,"K228":5.32,"K196":3.84,"K157":3.29,"K118":1.74,"K87":1.04,"K76":-0.04},
{"ch":1845,"K286":9.00,"K281":7.96,"K271":6.87,"K253":6.16,"K228":4.62,"K196":4.39,"K157":2.70,"K118":2.65,"K87":0.76,"K76":-0.07},
{"ch":1855,"K286":8.96,"K281":7.95,"K271":7.19,"K253":5.82,"K228":5.60,"K196":3.27,"K157":3.83,"K118":1.78,"K87":1.16,"K76":-0.10},
{"ch":1865,"K286":8.91,"K281":8.00,"K271":6.85,"K253":6.37,"K228":4.34,"K196":4.34,"K157":2.28,"K118":2.55,"K87":0.81,"K76":-0.15},
{"ch":1875,"K286":8.86,"K281":7.99,"K271":7.04,"K253":5.63,"K228":5.19,"K196":2.84,"K157":3.97,"K118":1.34,"K87":1.29,"K76":-0.22},
{"ch":1885,"K286":8.80,"K281":7.92,"K271":6.54,"K253":6.08,"K228":4.45,"K196":4.80,"K157":2.38,"K118":2.39,"K87":0.72,"K76":-0.30},
{"ch":1895,"K286":8.78,"K281":7.80,"K271":6.92,"K253":5.28,"K228":5.81,"K196":3.28,"K157":4.45,"K118":1.40,"K87":1.16,"K76":-0.32},
{"ch":1905,"K286":8.68,"K281":7.70,"K271":6.47,"K253":6.24,"K228":4.52,"K196":5.03,"K157":1.95,"K118":2.86,"K87":0.55,"K76":-0.40},
{"ch":1915,"K286":8.59,"K281":7.55,"K271":6.77,"K253":5.57,"K228":5.33,"K196":3.33,"K157":3.51,"K118":1.80,"K87":1.22,"K76":-0.52}
          ]},
          "transform": [{"fold": ["K286","K281","K271","K253","K228","K196","K157","K118","K87","K76"], "as": ["series", "temp"]}],
          "mark": {"type": "line", "color": "black", "strokeWidth": 1.6},
          "encoding": {
            "x": {"field": "ch", "type": "quantitative", "scale": {"domain": [47, 1979], "nice": false, "zero": false},
              "axis": {"orient": "bottom", "values": [125,250,375,500,625,750,875,1000,1125,1250,1375,1500,1625,1750,1875], "format": "d",
                "labelExpr": "datum.value % 250 === 0 ? datum.label : ''",
                "tickSize": {"condition": {"test": "datum.value % 250 === 0", "value": -7}, "value": -4},
                "labelPadding": 14, "title": "Spektrometerkanal", "titlePadding": 8}},
            "y": {"field": "temp", "type": "quantitative", "scale": {"domain": [-1, 10], "nice": false, "zero": false},
              "axis": {"orient": "left", "values": [0,1,2,3,4,5,6,7,8,9,10],
                "labelExpr": "datum.value % 2 === 0 ? datum.label : ''",
                "tickSize": {"condition": {"test": "datum.value % 2 === 0", "value": -7}, "value": -4},
                "labelPadding": 13, "title": "Helligkeitstemperatur [K]", "titlePadding": 8, "titleY": 170}},
            "detail": {"field": "series"}
          }
        },
        {
          "data": {"name": "labelsA", "values": [
            {"label": "286 K", "ch": 1315, "temp": 8.98},
            {"label": "281 K", "ch": 1511, "temp": 7.98},
            {"label": "271 K", "ch": 1315, "temp": 6.98},
            {"label": "253 K", "ch": 1511, "temp": 5.98},
            {"label": "228 K", "ch": 1315, "temp": 4.98},
            {"label": "196 K", "ch": 1511, "temp": 3.98},
            {"label": "157 K", "ch": 1315, "temp": 2.98},
            {"label": "118 K", "ch": 1511, "temp": 1.98},
            {"label": "87 K", "ch": 1315, "temp": 0.98},
            {"label": "76 K", "ch": 1511, "temp": -0.02}
          ]},
          "mark": {"type": "point", "shape": "M-2,-0.95H2V0.95H-2Z", "size": 400, "filled": true, "fill": "white", "stroke": "black", "strokeWidth": 1.2, "opacity": 1},
          "encoding": {
            "x": {"field": "ch", "type": "quantitative", "scale": {"domain": [47, 1979], "nice": false, "zero": false},
              "axis": {"orient": "top", "values": [125,250,375,500,625,750,875,1000,1125,1250,1375,1500,1625,1750,1875], "labels": false, "title": null,
                "tickSize": {"condition": {"test": "datum.value % 250 === 0", "value": -7}, "value": -4}}},
            "y": {"field": "temp", "type": "quantitative", "scale": {"domain": [-1, 10], "nice": false, "zero": false},
              "axis": {"orient": "right", "values": [0,1,2,3,4,5,6,7,8,9,10], "labels": false, "title": null,
                "tickSize": {"condition": {"test": "datum.value % 2 === 0", "value": -7}, "value": -4}}}
          }
        },
        {
          "data": {"name": "labelsA"},
          "mark": {"type": "text", "font": "DejaVu Sans Condensed, Liberation Sans, sans-serif", "fontSize": 13.5, "color": "black", "align": "center", "baseline": "middle", "dy": 1},
          "encoding": {
            "x": {"field": "ch", "type": "quantitative", "axis": null},
            "y": {"field": "temp", "type": "quantitative", "axis": null},
            "text": {"field": "label"}
          }
        }
      ],
      "resolve": {"axis": {"x": "independent", "y": "independent"}}
    },
    {
      "width": 498, "height": 328,
      "title": {"text": "(b)", "orient": "bottom", "offset": 20, "dx": -23},
      "layer": [
        {
          "data": {"values": [
            {"T": 50, "fit": 0.680}, {"T": 60, "fit": 0.666}, {"T": 70, "fit": 0.654}, {"T": 80, "fit": 0.643},
            {"T": 90, "fit": 0.634}, {"T": 100, "fit": 0.627}, {"T": 110, "fit": 0.621}, {"T": 120, "fit": 0.617},
            {"T": 130, "fit": 0.614}, {"T": 140, "fit": 0.6135}, {"T": 150, "fit": 0.615}, {"T": 160, "fit": 0.619},
            {"T": 170, "fit": 0.624}, {"T": 180, "fit": 0.631}, {"T": 190, "fit": 0.640}, {"T": 200, "fit": 0.650},
            {"T": 210, "fit": 0.661}, {"T": 220, "fit": 0.674}, {"T": 230, "fit": 0.689}, {"T": 240, "fit": 0.705},
            {"T": 250, "fit": 0.722}, {"T": 260, "fit": 0.741}, {"T": 270, "fit": 0.762}, {"T": 280, "fit": 0.784},
            {"T": 290, "fit": 0.806}, {"T": 300, "fit": 0.829}
          ]},
          "mark": {"type": "line", "color": "black", "strokeWidth": 2.8, "strokeDash": [12, 9]},
          "encoding": {
            "x": {"field": "T", "type": "quantitative", "scale": {"domain": [40, 308], "nice": false, "zero": false},
              "axis": {"orient": "bottom", "values": [50,75,100,125,150,175,200,225,250,275,300],
                "labelExpr": "datum.value % 50 === 0 ? datum.label : ''",
                "tickSize": {"condition": {"test": "datum.value % 50 === 0", "value": -7}, "value": -4},
                "labelPadding": 14, "title": "Helligkeitstemperatur [K]", "titlePadding": 8, "titleX": 231}},
            "y": {"field": "fit", "type": "quantitative", "scale": {"domain": [0.575, 0.85], "nice": false, "zero": false},
              "axis": {"orient": "left", "values": [0.6,0.625,0.65,0.675,0.7,0.725,0.75,0.775,0.8,0.825,0.85], "format": ".2f",
                "labelExpr": "round(datum.value * 1000) % 50 === 0 ? datum.label : ''",
                "tickSize": {"condition": {"test": "round(datum.value * 1000) % 50 === 0", "value": -7}, "value": -4},
                "labelPadding": 13, "title": "Rauschen ΔT [K]", "titlePadding": 3, "titleY": 150}}
          }
        },
        {
          "data": {"name": "pts", "values": [
            {"T": 76, "noise": 0.6475, "lo": 0.6285, "hi": 0.666},
            {"T": 87, "noise": 0.634, "lo": 0.615, "hi": 0.6525},
            {"T": 118, "noise": 0.6147, "lo": 0.5964, "hi": 0.6324},
            {"T": 157, "noise": 0.6117, "lo": 0.5926, "hi": 0.6307},
            {"T": 196, "noise": 0.6366, "lo": 0.6161, "hi": 0.6573},
            {"T": 228, "noise": 0.6806, "lo": 0.6601, "hi": 0.6993},
            {"T": 253, "noise": 0.7252, "lo": 0.704, "hi": 0.7466},
            {"T": 271, "noise": 0.7657, "lo": 0.7433, "hi": 0.7878},
            {"T": 281, "noise": 0.7953, "lo": 0.7706, "hi": 0.8196},
            {"T": 285, "noise": 0.8081, "lo": 0.784, "hi": 0.8317}
          ]},
          "mark": {"type": "rule", "color": "black", "strokeWidth": 1.2},
          "encoding": {
            "x": {"field": "T", "type": "quantitative", "scale": {"domain": [40, 308], "nice": false, "zero": false},
              "axis": {"orient": "top", "values": [50,75,100,125,150,175,200,225,250,275,300], "labels": false, "title": null,
                "tickSize": {"condition": {"test": "datum.value % 50 === 0", "value": -7}, "value": -4}}},
            "y": {"field": "lo", "type": "quantitative", "scale": {"domain": [0.575, 0.85], "nice": false, "zero": false},
              "axis": {"orient": "right", "values": [0.6,0.625,0.65,0.675,0.7,0.725,0.75,0.775,0.8,0.825,0.85], "labels": false, "title": null,
                "tickSize": {"condition": {"test": "round(datum.value * 1000) % 50 === 0", "value": -7}, "value": -4}}},
            "y2": {"field": "hi"}
          }
        },
        {
          "data": {"name": "pts"},
          "mark": {"type": "tick", "orient": "horizontal", "size": 13, "thickness": 1.2, "color": "black", "opacity": 1},
          "encoding": {
            "x": {"field": "T", "type": "quantitative", "axis": null},
            "y": {"field": "lo", "type": "quantitative", "axis": null}
          }
        },
        {
          "data": {"name": "pts"},
          "mark": {"type": "tick", "orient": "horizontal", "size": 13, "thickness": 1.2, "color": "black", "opacity": 1},
          "encoding": {
            "x": {"field": "T", "type": "quantitative", "axis": null},
            "y": {"field": "hi", "type": "quantitative", "axis": null}
          }
        },
        {
          "data": {"name": "pts"},
          "mark": {"type": "square", "size": 55, "color": "black", "filled": true, "opacity": 1},
          "encoding": {
            "x": {"field": "T", "type": "quantitative", "axis": null},
            "y": {"field": "noise", "type": "quantitative", "axis": null}
          }
        }
      ],
      "resolve": {"axis": {"x": "independent", "y": "independent"}}
    }
  ]
}
